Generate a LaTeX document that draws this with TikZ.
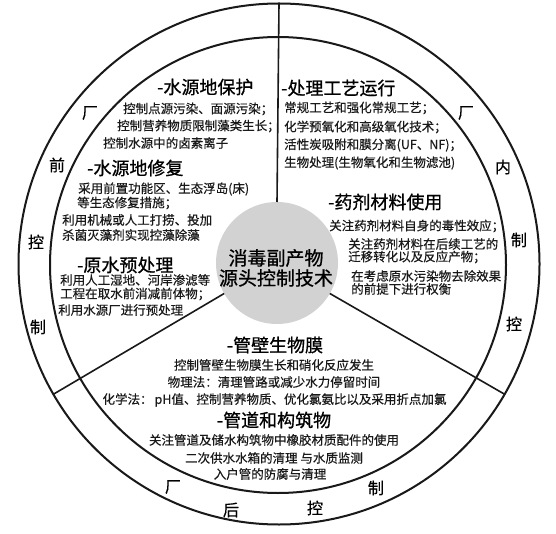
\documentclass[tikz,border=0pt]{standalone}
\usepackage{fontspec}
\setmainfont{Noto Sans CJK SC}
\newfontfamily\bodyfont{Noto Sans CJK SC}[FakeBold=0.4]
\newfontfamily\headfont{Noto Sans CJK SC}[FakeBold=0.8]
\begin{document}
\begin{tikzpicture}[x=1pt,y=-1pt,
  circ/.style={circle, draw=black!90, line width=2pt, inner sep=0pt, outer sep=0pt},
  hubstyle/.style={circle, fill=gray!35, inner sep=0pt, outer sep=0pt, minimum size=122pt},
  divider/.style={draw=black!90, line width=1.6pt},
  body/.style={font=\bodyfont\fontsize{12.5}{14}\selectfont, text=black!90, inner sep=0pt, anchor=west},
  bodyc/.style={font=\bodyfont\fontsize{12.5}{14}\selectfont, text=black!90, inner sep=0pt},
  ttl/.style={font=\headfont\fontsize{18}{20}\selectfont, text=black, inner sep=0pt, anchor=west},
  ttlc/.style={font=\headfont\fontsize{18}{20}\selectfont, text=black, inner sep=0pt},
  ring/.style={font=\bodyfont\fontsize{16}{18}\selectfont, text=black, inner sep=0pt},
  hubtext/.style={font=\headfont\fontsize{19}{22}\selectfont, text=black, inner sep=0pt}
]
\useasboundingbox[fill=white] (0,0) rectangle (556,534);

% circles
\node[circ, minimum size=521pt] (outer) at (279,264) {};
\node[circ, minimum size=456pt] (inner) at (278,265) {};
\node[hubstyle] (hub) at (277,263) {};

% dividers
\draw[divider] (hub.90) -- (outer.90);
\draw[divider] (hub.210) -- (outer.210);
\draw[divider] (hub.330) -- (outer.330);

% hub text
\node[hubtext] (h1) at (276,258) {消毒副产物};
\node[hubtext] (h2) at (276,278) {源头控制技术};

% ring labels: left
\node[ring] (l1) at (90,113) {厂};
\node[ring] (l2) at (57,165) {前};
\node[ring] (l3) at (36,242) {控};
\node[ring] (l4) at (38,327) {制};
% right
\node[ring] (r1) at (466,113) {厂};
\node[ring] (r2) at (503,167) {内};
\node[ring] (r3) at (519,240) {制};
\node[ring] (r4) at (514,324) {控};
% bottom
\node[ring] (b1) at (173,487) {厂};
\node[ring] (b2) at (231,510) {后};
\node[ring] (b3) at (315,508) {控};
\node[ring] (b4) at (376,488) {制};

% section A
\node[ttl] (a0) at (157,87) {-水源地保护};
\node[body] (a1) at (123,109) {控制点源污染、面源污染；};
\node[body] (a2) at (117,126) {控制营养物质限制藻类生长；};
\node[body] (a3) at (103,143) {控制水源中的卤素离子};
\node[ttl] (b0) at (87,168) {-水源地修复};
\node[body] (bb1) at (78,189) {采用前置功能区、生态浮岛(床)};
\node[body] (bb2) at (77,203) {等生态修复措施；};
\node[body] (bb3) at (62,220) {利用机械或人工打捞、投加};
\node[body] (bb4) at (62,235) {杀菌灭藻剂实现控藻除藻};
\node[ttl] (c0) at (77,265) {-原水预处理};
\node[body] (c1) at (60,280) {利用人工湿地、河岸渗滤等};
\node[body] (c2) at (60,294) {工程在取水前消减前体物；};
\node[body] (c3) at (58,310) {利用水源厂进行预处理};

% section D
\node[ttl] (d0) at (281,88) {-处理工艺运行};
\node[body] (d1) at (284,108) {常规工艺和强化常规工艺；};
\node[body] (d2) at (284,127) {化学预氧化和高级氧化技术；};
\node[body] (d3) at (284,145) {活性炭吸附和膜分离(UF、NF)；};
\node[body] (d4) at (284,163) {生物处理(生物氧化和生物滤池)};

% section E
\node[ttl] (e0) at (328,202) {-药剂材料使用};
\node[body] (e1) at (329,226) {关注药剂材料自身的毒性效应；};
\node[body] (e2) at (348,244) {关注药剂材料在后续工艺的};
\node[body] (e3) at (348,257) {迁移转化以及反应产物；};
\node[body] (e4) at (351,276) {在考虑原水污染物去除效果};
\node[body] (e5) at (351,289) {的前提下进行权衡};

% section F
\node[ttlc] (f0) at (275,345) {-管壁生物膜};
\node[bodyc] (f1) at (274,365) {控制管壁生物膜生长和硝化反应发生};
\node[bodyc] (f2) at (274,382) {物理法：清理管路或减少水力停留时间};
\node[bodyc] (f3) at (274.5,400) {化学法：\,pH值、控制营养物质、优化氯氨比以及采用折点加氯};
\node[ttlc] (g0) at (274,420) {-管道和构筑物};
\node[bodyc] (g1) at (274,440) {关注管道及储水构筑物中橡胶材质配件的使用};
\node[bodyc] (g2) at (274,458) {二次供水水箱的清理\ 与水质监测};
\node[bodyc] (g3) at (270,474) {入户管的防腐与清理};
\end{tikzpicture}
\end{document}
